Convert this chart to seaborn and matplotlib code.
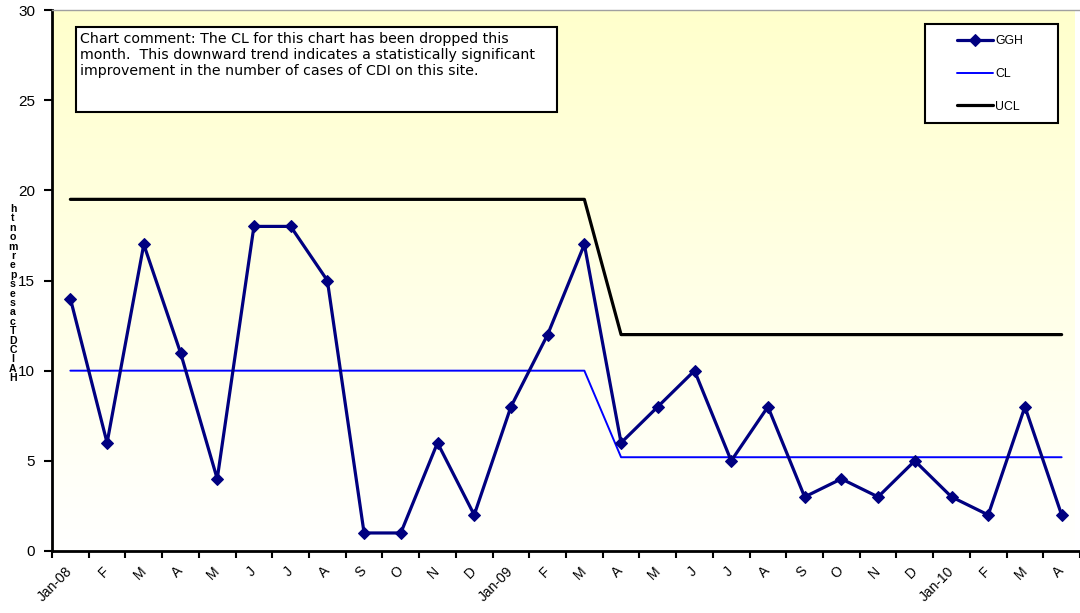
import numpy as np
import matplotlib.pyplot as plt
import seaborn as sns
from matplotlib.colors import LinearSegmentedColormap
from matplotlib.patches import Rectangle

months = ["Jan-08", "F", "M", "A", "M", "J", "J", "A", "S", "O", "N", "D",
          "Jan-09", "F", "M", "A", "M", "J", "J", "A", "S", "O", "N", "D",
          "Jan-10", "F", "M", "A"]
ggh = [14, 6, 17, 11, 4, 18, 18, 15, 1, 1, 6, 2,
       8, 12, 17, 6, 8, 10, 5, 8, 3, 4, 3, 5,
       3, 2, 8, 2]
cl = [10, 10, 10, 10, 10, 10, 10, 10, 10, 10, 10, 10,
      10, 10, 10, 5.2, 5.2, 5.2, 5.2, 5.2, 5.2, 5.2, 5.2, 5.2,
      5.2, 5.2, 5.2, 5.2]
ucl = [19.5, 19.5, 19.5, 19.5, 19.5, 19.5, 19.5, 19.5, 19.5, 19.5, 19.5, 19.5,
       19.5, 19.5, 19.5, 12, 12, 12, 12, 12, 12, 12, 12, 12,
       12, 12, 12, 12]
ylabel_letters = "htnomrepsesacTDCIAH"  # stacked text as it appears, top to bottom
comment = ("Chart comment: The CL for this chart has been dropped this\n"
           "month.  This downward trend indicates a statistically significant\n"
           "improvement in the number of cases of CDI on this site.")

sns.set_style("ticks")
plt.rcParams['font.family'] = ['Liberation Sans', 'DejaVu Sans']
plt.rcParams['text.color'] = 'black'
plt.rcParams['xtick.labelcolor'] = 'black'
plt.rcParams['ytick.labelcolor'] = 'black'

W, H = 1080, 613
fig = plt.figure(figsize=(10.8, 6.13), dpi=100)
ax = fig.add_axes([52 / W, 62 / H, 1028 / W, 541 / H])

x = np.arange(len(months))
xmax = 27.36

# pale yellow -> white background gradient
bg = LinearSegmentedColormap.from_list("bg", ["#ffffff", "#ffffcc"])
ax.imshow(np.linspace(0, 1, 256).reshape(-1, 1), extent=[-0.5, xmax, 0, 30],
          origin='lower', aspect='auto', cmap=bg, zorder=0)

sns.lineplot(x=x, y=ucl, ax=ax, color='black', lw=2.3, label='UCL', zorder=3)
sns.lineplot(x=x, y=cl, ax=ax, color='#0000ff', lw=1.4, label='CL', zorder=3)
sns.lineplot(x=x, y=ggh, ax=ax, color='#000080', lw=2.3, marker='D', markersize=6.5,
             markeredgecolor='#000080', label='GGH', zorder=4)

ax.set_xlim(-0.5, xmax)
ax.set_ylim(0, 30)
ax.set_yticks(range(0, 31, 5))
ax.set_xticks(x)
ax.set_xticklabels(months, rotation=45, ha='right', va='center', rotation_mode='anchor')
ax.set_xticks(np.arange(-0.5, 28, 1), minor=True)
ax.tick_params(axis='x', which='major', length=0, pad=13, labelsize=10)
ax.tick_params(axis='x', which='minor', length=5, width=1.5, color='black')
ax.tick_params(axis='y', length=6, width=1.5, pad=6, labelsize=11, color='black')
ax.set_xlabel("")
ax.set_ylabel("")

for s in ['left', 'bottom']:
    ax.spines[s].set_color('black')
    ax.spines[s].set_linewidth(2)
ax.spines['top'].set_color('#a0a0a0')
ax.spines['top'].set_linewidth(1)
ax.spines['right'].set_visible(False)

handles, labels = ax.get_legend_handles_labels()
ax.get_legend().remove()

# comment box
fig.add_artist(Rectangle((76 / W, 1 - 112 / H), (557 - 76) / W, (112 - 27) / H,
                         transform=fig.transFigure, fc='white', ec='black', lw=1.5))
fig.text(80 / W, 1 - 32 / H, comment, ha='left', va='top', fontsize=10.2,
         family='DejaVu Sans', linespacing=1.2)

# legend box
fig.add_artist(Rectangle((925 / W, 1 - 123 / H), (1058 - 925) / W, (123 - 24) / H,
                         transform=fig.transFigure, fc='white', ec='black', lw=1.5))
order = [labels.index(l) for l in ['GGH', 'CL', 'UCL']]
leg = fig.legend([handles[i] for i in order], [labels[i] for i in order],
                 loc='upper left', bbox_to_anchor=(957 / W, 1 - 35 / H),
                 bbox_transform=fig.transFigure, frameon=False, borderpad=0,
                 borderaxespad=0, handlelength=2.95, handletextpad=0.15,
                 labelspacing=1.7, fontsize=8.8)
leg.set_zorder(5)

# stacked y label
for i, ch in enumerate(ylabel_letters):
    fig.text(13 / W, 1 - (209 + i * 9.4) / H, ch, ha='center', va='center',
             fontsize=7.6, fontweight='bold')

fig.savefig("out.png", dpi=100)
